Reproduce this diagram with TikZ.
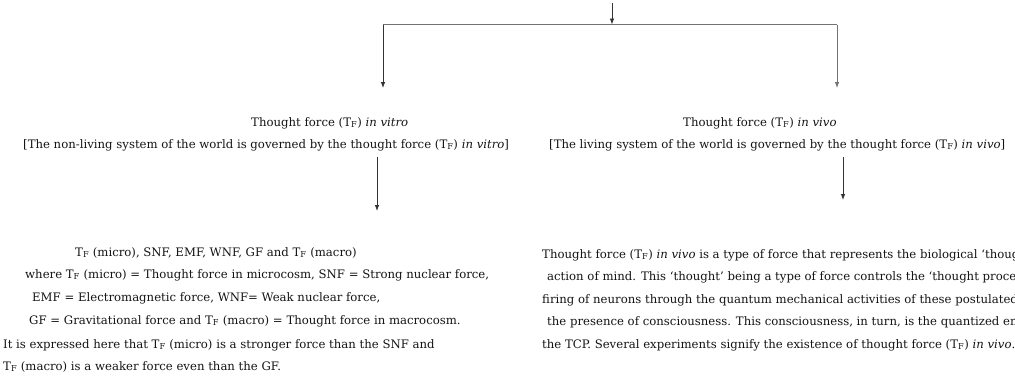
\documentclass[tikz,border=0pt]{standalone}
\usepackage{fontspec}
\setmainfont{DejaVu Serif}
\usetikzlibrary{arrows.meta}
\definecolor{txtcol}{gray}{0.08}
\definecolor{linecol}{gray}{0.45}
\newcommand{\TF}{T\textsubscript{F}}
\tikzset{
  body/.style={font=\fontsize{11.7}{14}\selectfont,text=txtcol,inner sep=0pt,anchor=base west},
  link/.style={draw=linecol,line width=1.1pt},
  flow/.style={draw=black!80,line width=0.8pt,-{Latex[length=6pt,width=4.5pt]}},
}

\begin{document}
\begin{tikzpicture}[x=1pt,y=-1pt]
  \useasboundingbox (0,0) rectangle (1015,381);
  \clip (0,0) rectangle (1015,381);
  \coordinate (src) at (612,3);
  \coordinate (fork) at (612,24.5);
  \coordinate (forkL) at (383,24.5);
  \coordinate (forkR) at (837,24.5);
  \coordinate (endL) at (383,88);
  \coordinate (endR) at (837,88);
  \coordinate (midL) at (377,157);
  \coordinate (tipL) at (377,211);
  \coordinate (midR) at (843,157);
  \coordinate (tipR) at (843,200);
  \draw[flow] (src) -- (fork);
  \draw[link] (forkL) -- (forkR);
  \draw[flow] (forkL) -- (endL);
  \draw[flow,draw=linecol] (forkR) -- (endR);
  \node[body] (vitroT) at (251,126) {Thought force (\TF) \textit{in vitro}};
  \node[body] (vitroB) at (23,148) {[The non-living system of the world is governed by the thought force (\TF) \textit{in vitro}]};
  \node[body] (vivoT) at (683,126) {Thought force (\TF) \textit{in vivo}};
  \node[body] (vivoB) at (549,148) {[The living system of the world is governed by the thought force (\TF) \textit{in vivo}]};
  \draw[flow] (midL) -- (tipL);
  \draw[flow] (midR) -- (tipR);
  \node[body] (forceA) at (75,256) {\TF{} (micro), SNF, EMF, WNF, GF and \TF{} (macro)};
  \node[body] (forceB) at (25,278) {where \TF{} (micro) = Thought force in microcosm, SNF = Strong nuclear force,};
  \node[body] (forceC) at (32,301) {EMF = Electromagnetic force, WNF= Weak nuclear force,};
  \node[body] (forceD) at (29,324) {GF = Gravitational force and \TF{} (macro) = Thought force in macrocosm.};
  \node[body] (forceE) at (3,348) {It is expressed here that \TF{} (micro) is a stronger force than the SNF and};
  \node[body] (forceF) at (3,370) {\TF{} (macro) is a weaker force even than the GF.};
  \node[body] (vivoA) at (542,258) {Thought force (\TF) \textit{in vivo} is a type of force that represents the biological `thoug};
  \node[body] (vivoC) at (547,280) {action of mind. This `thought' being a type of force controls the `thought proces};
  \node[body] (vivoD) at (542,303) {firing of neurons through the quantum mechanical activities of these postulated};
  \node[body] (vivoE) at (547,325) {the presence of consciousness. This consciousness, in turn, is the quantized en};
  \node[body] (vivoF) at (542,348) {the TCP. Several experiments signify the existence of thought force (\TF) \textit{in vivo}.};
\end{tikzpicture}
\end{document}
